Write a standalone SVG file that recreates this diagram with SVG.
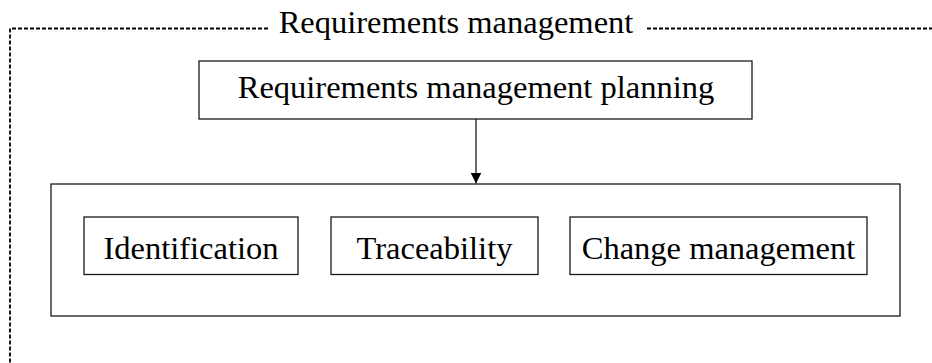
<svg xmlns="http://www.w3.org/2000/svg" width="932" height="363" viewBox="0 0 932 363">
  <defs>
    <marker id="arrow" markerWidth="11" markerHeight="11" refX="11" refY="5.5" orient="auto" markerUnits="userSpaceOnUse">
      <path d="M0,0 L11,5.5 L0,11 Z" fill="#000"/>
    </marker>
    <style>
      .box { fill: #fff; stroke: #1a1a1a; stroke-width: 1.3; }
      .label { font-family: "Liberation Serif", "Times New Roman", serif; font-size: 32.5px; fill: #000; text-anchor: middle; }
      .frame { fill: none; stroke: #000; stroke-width: 1.8; stroke-dasharray: 4 2; }
      .link { fill: none; stroke: #1a1a1a; stroke-width: 1.3; }
    </style>
  </defs>
  <rect width="932" height="363" fill="#fff"/>

  <!-- dashed enclosing frame with its title -->
  <g id="frame">
    <path class="frame" d="M268,28.5 H10 V363"/>
    <path class="frame" d="M647,28.5 H932"/>
    <text class="label" x="456" y="33.3">Requirements management</text>
  </g>

  <g id="planning">
    <rect class="box" x="199" y="61" width="553" height="58"/>
    <text class="label" x="476" y="98.3">Requirements management planning</text>
  </g>

  <g id="activities">
    <rect class="box" x="51" y="184" width="849" height="132"/>
  </g>

  <g id="identification">
    <rect class="box" x="84" y="217" width="214" height="57.5"/>
    <text class="label" x="191" y="258.5">Identification</text>
  </g>

  <g id="traceability">
    <rect class="box" x="331" y="217" width="207" height="57.5"/>
    <text class="label" x="434.5" y="258.5">Traceability</text>
  </g>

  <g id="change-management">
    <rect class="box" x="570" y="217" width="297" height="57.5"/>
    <text class="label" x="718.5" y="258.5">Change management</text>
  </g>

  <g id="connectors">
    <line class="link" x1="476" y1="119" x2="476" y2="183.5" marker-end="url(#arrow)"/>
  </g>
</svg>
